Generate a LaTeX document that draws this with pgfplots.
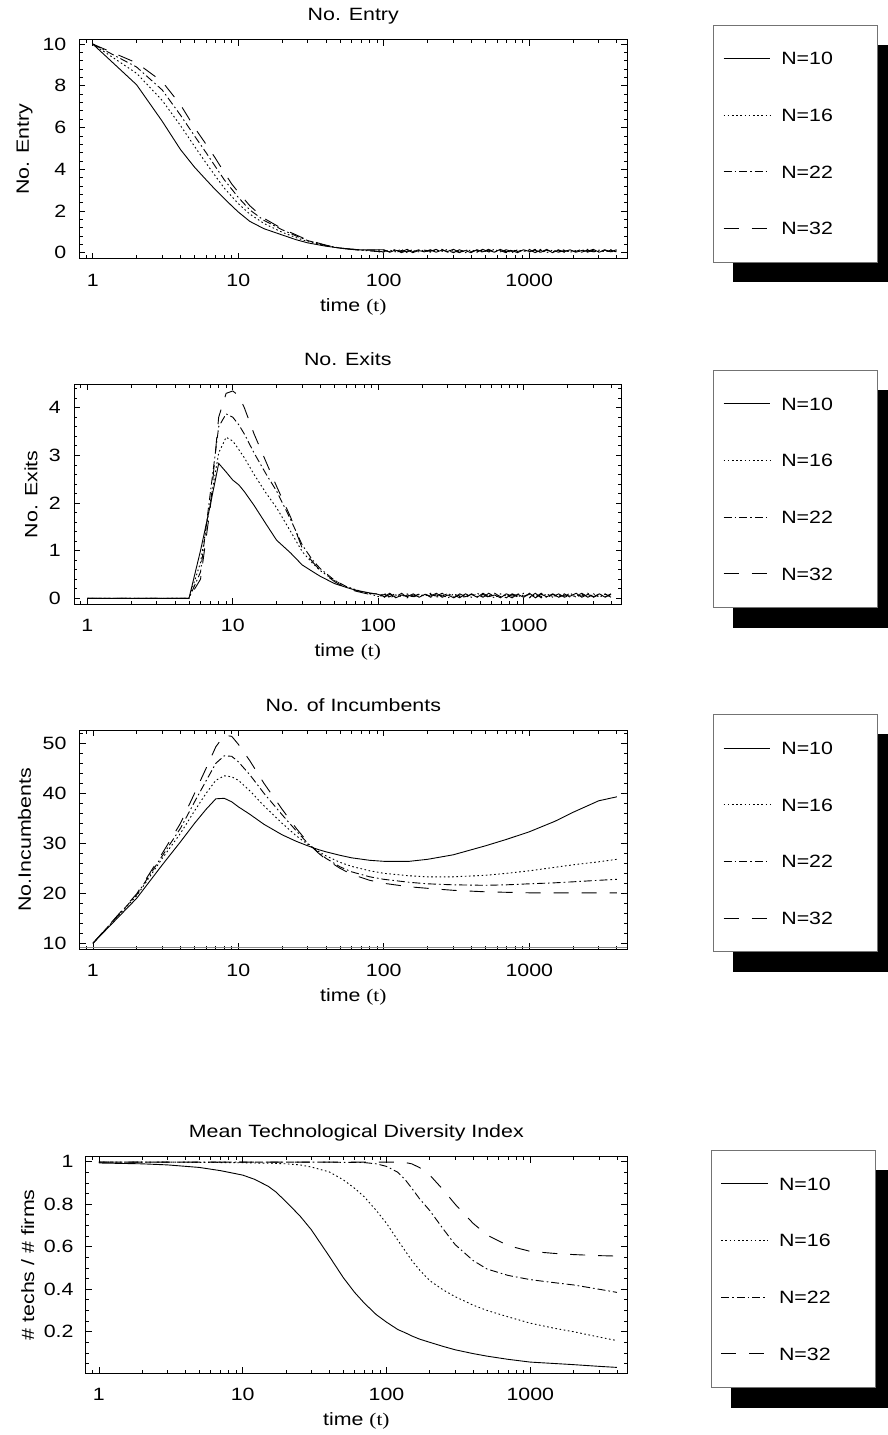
\documentclass[border=0pt]{standalone}
\usepackage{fontspec}
\setmainfont[FakeStretch=1.2]{Liberation Sans}
\newfontfamily\tnr[FakeStretch=1.2]{Liberation Serif}
\usepackage{pgfplots}
\pgfplotsset{compat=1.18}
\usepackage{pgfplotstable}
\pgfdeclarelayer{background}
\pgfsetlayers{background,main}

\newcommand\LE[1]{\makebox[87pt][l]{#1}}

% No. Entry
\pgfplotstableread{
t a b c d
1 10 10 10 10
2 8.05 8.6 8.9 9.1
3 6.3 7.3 7.8 8.2
4 4.95 6.1 6.6 7.1
5 4.1 5.1 5.6 6.0
6 3.5 4.3 4.8 5.2
7 3.0 3.65 4.1 4.5
8 2.6 3.1 3.5 3.85
9 2.25 2.7 3.05 3.3
10 1.95 2.35 2.65 2.9
12 1.5 1.85 2.05 2.25
15 1.15 1.4 1.55 1.65
20 0.85 0.98 1.1 1.15
25 0.62 0.72 0.8 0.85
30 0.47 0.53 0.58 0.6
40 0.31 0.33 0.35 0.36
50 0.22 0.22 0.22 0.21
70 0.13 0.12 0.12 0.11
100 0.14 0.02 0.12 0.04
110 0.02 0.12 0.04 0.16
120 0.12 0.04 0.16 0
132 0.04 0.16 0 0.1
145 0.16 0 0.1 0.04
158 0 0.1 0.04 0.14
174 0.1 0.04 0.14 0.02
191 0.04 0.14 0.02 0.12
209 0.14 0.02 0.12 0.06
229 0.02 0.12 0.06 0.16
251 0.12 0.06 0.16 0.02
275 0.06 0.16 0.02 0.1
302 0.16 0.02 0.1 0
331 0.02 0.1 0 0.14
363 0.1 0 0.14 0.04
398 0 0.14 0.04 0.12
437 0.14 0.04 0.12 0.02
479 0.04 0.12 0.02 0.16
525 0.12 0.02 0.16 0.04
575 0.02 0.16 0.04 0.1
631 0.16 0.04 0.1 0
692 0.04 0.1 0 0.14
759 0.1 0 0.14 0.06
832 0 0.14 0.06 0.12
912 0.14 0.06 0.12 0.02
1000 0.06 0.12 0.02 0.16
1096 0.12 0.02 0.16 0
1202 0.02 0.16 0 0.12
1318 0.16 0 0.12 0.04
1445 0 0.12 0.04 0.14
1585 0.12 0.04 0.14 0.02
1738 0.04 0.14 0.02 0.1
1905 0.14 0.02 0.1 0.06
2089 0.02 0.1 0.06 0.16
2291 0.1 0.06 0.16 0.02
2512 0.06 0.16 0.02 0.12
2754 0.16 0.02 0.12 0.04
3020 0.02 0.12 0.04 0.14
3311 0.12 0.04 0.14 0.02
3631 0.04 0.14 0.02 0.12
3981 0.14 0.02 0.12 0.04
}\tabEntry

% No. Exits
\pgfplotstableread{
t a b c d
1 0 0 0 0
5 0 0 0 0
6 1.0 0.75 0.55 0.4
7 1.95 2.0 2.2 1.9
8 2.83 3.05 3.6 3.8
9 2.65 3.38 3.87 4.3
10 2.48 3.3 3.8 4.35
11 2.38 3.12 3.64 4.25
12 2.24 2.95 3.45 4.0
14 1.95 2.6 3.05 3.45
17 1.55 2.2 2.6 2.85
20 1.22 1.9 2.25 2.35
25 0.95 1.4 1.65 1.7
30 0.7 0.98 1.12 1.05
35 0.57 0.75 0.82 0.78
40 0.46 0.58 0.62 0.58
50 0.31 0.37 0.38 0.35
60 0.23 0.25 0.25 0.22
70 0.17 0.18 0.17 0.15
85 0.12 0.11 0.1 0.09
100 0.082 0.034 0.094 0.022
110 0.034 0.106 0.022 0.082
120 0.106 0.01 0.082 0.034
132 0.01 0.07 0.034 0.106
145 0.07 0.034 0.106 0.01
158 0.034 0.094 0.01 0.07
174 0.094 0.022 0.07 0.034
191 0.022 0.082 0.034 0.094
209 0.082 0.046 0.094 0.022
229 0.046 0.106 0.022 0.082
251 0.106 0.022 0.082 0.046
275 0.022 0.07 0.046 0.106
302 0.07 0.01 0.106 0.022
331 0.01 0.094 0.022 0.07
363 0.094 0.034 0.07 0.01
398 0.034 0.082 0.01 0.094
437 0.082 0.022 0.094 0.034
479 0.022 0.106 0.034 0.082
525 0.106 0.034 0.082 0.022
575 0.034 0.07 0.022 0.106
631 0.07 0.01 0.106 0.034
692 0.01 0.094 0.034 0.07
759 0.094 0.046 0.07 0.01
832 0.046 0.082 0.01 0.094
912 0.082 0.022 0.094 0.046
1000 0.022 0.106 0.046 0.082
1096 0.106 0.01 0.082 0.022
1202 0.01 0.082 0.022 0.106
1318 0.082 0.034 0.106 0.01
1445 0.034 0.094 0.01 0.082
1585 0.094 0.022 0.082 0.034
1738 0.022 0.07 0.034 0.094
1905 0.07 0.046 0.094 0.022
2089 0.046 0.106 0.022 0.07
2291 0.106 0.022 0.07 0.046
2512 0.022 0.082 0.046 0.106
2754 0.082 0.034 0.106 0.022
3020 0.034 0.094 0.022 0.082
3311 0.094 0.022 0.082 0.034
3631 0.022 0.082 0.034 0.094
3981 0.082 0.034 0.094 0.022
}\tabExit

% No. of Incumbents
\pgfplotstableread{
t a b c d
1 10 10 10 10
2 19 19.5 19.7 19.9
3 25.7 27 27.5 28
4 30.3 32 33 34
5 34 36.5 38.3 40
6 36.8 40 42.5 45
7 38.9 42.6 46 49.3
8 39 43.5 47.5 51.6
9 38.3 43.3 47.4 51.4
10 37.3 42.6 46.3 49.8
12 35.8 40.5 43.7 46.5
15 33.8 37.5 40 42
20 31.7 34 35.7 36.8
25 30.4 31.5 32.5 33
30 29.5 29.8 30 30.2
35 28.8 28.5 28.3 28.2
40 28.3 27.5 27 26.8
50 27.6 26.2 25.3 25
60 27.1 25.4 24.3 23.8
80 26.6 24.5 23.3 22.6
100 26.4 24 22.8 22
150 26.4 23.5 22.2 21.3
200 26.8 23.3 21.9 21
300 27.7 23.3 21.7 20.6
500 29.5 23.6 21.6 20.3
700 30.8 24 21.7 20.2
1000 32.3 24.5 21.9 20.1
1500 34.4 25.2 22.1 20.1
2000 36.2 25.7 22.3 20.1
3000 38.5 26.3 22.6 20.1
4000 39.3 26.8 22.8 20.1
}\tabInc

% Mean Technological Diversity Index
\pgfplotstableread{
t a b c d
1 0.994 0.998 0.998 0.998
2 0.99 0.998 0.998 0.998
3 0.985 0.998 0.998 0.998
5 0.973 0.997 0.998 0.998
7 0.958 0.996 0.998 0.998
10 0.937 0.995 0.998 0.998
12 0.918 0.994 0.998 0.998
15 0.885 0.993 0.998 0.998
17 0.858 0.992 0.998 0.998
20 0.812 0.99 0.998 0.998
25 0.745 0.985 0.998 0.998
30 0.68 0.975 0.998 0.998
40 0.555 0.952 0.998 0.998
50 0.455 0.915 0.997 0.998
60 0.385 0.875 0.997 0.998
70 0.335 0.835 0.996 0.998
85 0.28 0.77 0.99 0.998
100 0.245 0.71 0.978 0.998
120 0.21 0.63 0.95 0.998
135 0.195 0.58 0.915 0.996
150 0.18 0.535 0.875 0.99
170 0.165 0.49 0.825 0.972
200 0.15 0.44 0.77 0.937
250 0.13 0.395 0.68 0.865
300 0.115 0.365 0.61 0.8
400 0.097 0.325 0.535 0.71
500 0.085 0.3 0.495 0.655
700 0.07 0.27 0.465 0.605
1000 0.057 0.24 0.445 0.578
1500 0.05 0.215 0.43 0.568
2000 0.045 0.2 0.42 0.563
3000 0.037 0.175 0.4 0.558
4000 0.032 0.158 0.385 0.556
}\tabDiv

\pgfplotsset{
  sA/.style={black, line width=0.9pt, solid},
  sB/.style={black, line width=0.9pt, dash pattern=on 1.6pt off 2.6pt},
  sC/.style={black, line width=0.9pt, dash pattern=on 8pt off 3pt on 1.6pt off 3pt},
  sD/.style={black, line width=0.9pt, dash pattern=on 15pt off 13pt},
  every axis/.append style={
    scale only axis,
    xmode=log,
    xmin=0.81, xmax=4700,
    xtick={1,10,100,1000}, xticklabels={1,10,100,1000},
    minor xtick={0.9,2,3,4,5,6,7,8,9,20,30,40,50,60,70,80,90,200,300,400,500,600,700,800,900,2000,3000,4000},
    tick align=inside, tick pos=both, xticklabel pos=lower, yticklabel pos=left,
    major tick length=6pt, minor tick length=3.5pt,
    every tick/.style={black, line width=0.7pt},
    axis line style={black, line width=0.9pt},
    font=\fontsize{17.8}{21}\selectfont,
    xticklabel style={anchor=base, yshift=-27.5pt, inner sep=0pt},
    yticklabel style={anchor=east, inner sep=0pt, xshift=-13pt},
    title style={at={(axis description cs:0.5,1)}, anchor=base, yshift=13pt},
    xlabel style={at={(axis description cs:0.5,0)}, anchor=base, yshift=-52.5pt},
    ylabel style={rotate=0, anchor=center},
    xlabel={time {\tnr (t)}},
    legend image code/.code={\draw[#1] (0pt,0pt) -- (46.6pt,0pt);},
    legend style={draw=black!55, line width=0.8pt, fill=white,
      inner xsep=9.4pt, inner ysep=27pt, row sep=44pt, column sep=10.7pt,
      anchor=north west, font=\fontsize{17.8}{21}\selectfont,
      nodes={inner sep=0pt, text height=12.7pt, text depth=0pt}},
  },
  /pgf/number format/assume math mode=true,
}

\begin{document}
\begin{tikzpicture}
\useasboundingbox (0pt,0pt) rectangle (888pt,-1435pt);

% Panel 1
\begin{axis}[
  at={(79.5pt,-258.7pt)}, anchor=south west,
  width=547.5pt, height=219.2pt,
  ymin=-0.29, ymax=10.22,
  ytick={0,2,4,6,8,10},
  minor ytick={0.4,0.8,...,10},
  title={No. Entry}, ylabel={No. Entry},
  ylabel style={at={(axis description cs:-0.1005,0.5)}},
  legend style={at={(1.1576,1.0675)}, name=legA},
]
\addplot[sA] table[x=t,y=a]{\tabEntry};
\addplot[sB] table[x=t,y=b]{\tabEntry};
\addplot[sC] table[x=t,y=c]{\tabEntry};
\addplot[sD] table[x=t,y=d]{\tabEntry};
\legend{{\LE{N=10}},{\LE{N=16}},{\LE{N=22}},{\LE{N=32}}}
\end{axis}

% Panel 2
\begin{axis}[
  at={(74pt,-604.3pt)}, anchor=south west,
  width=547.5pt, height=220pt,
  ymin=-0.126, ymax=4.49,
  ytick={0,1,2,3,4},
  minor ytick={0.2,0.4,...,4.4},
  title={No. Exits}, ylabel={No. Exits},
  ylabel style={at={(axis description cs:-0.0785,0.5)}},
  legend style={at={(1.1677,1.065)}, name=legB},
]
\addplot[sA] table[x=t,y=a]{\tabExit};
\addplot[sB] table[x=t,y=b]{\tabExit};
\addplot[sC] table[x=t,y=c]{\tabExit};
\addplot[sD] table[x=t,y=d]{\tabExit};
\legend{{\LE{N=10}},{\LE{N=16}},{\LE{N=22}},{\LE{N=32}}}
\end{axis}

% Panel 3
\begin{axis}[
  at={(79.6pt,-949.3pt)}, anchor=south west,
  width=547.4pt, height=219.3pt,
  ymin=8.8, ymax=52.66,
  ytick={10,20,30,40,50},
  minor ytick={10,12,...,52},
  extra y ticks={9.2}, extra y tick labels={},
  extra y tick style={grid=major, major grid style={black!45, line width=1.3pt}, major tick length=0pt},
  title={No. of Incumbents}, ylabel={No.Incumbents},
  ylabel style={at={(axis description cs:-0.1005,0.5)}},
  legend style={at={(1.1577,1.0711)}, name=legC},
]
\addplot[sA] table[x=t,y=a]{\tabInc};
\addplot[sB] table[x=t,y=b]{\tabInc};
\addplot[sC] table[x=t,y=c]{\tabInc};
\addplot[sD] table[x=t,y=d]{\tabInc};
\legend{{\LE{N=10}},{\LE{N=16}},{\LE{N=22}},{\LE{N=32}}}
\end{axis}

% Panel 4
\begin{axis}[
  at={(85.7pt,-1373pt)}, anchor=south west,
  width=541.3pt, height=216.3pt,
  ymin=0.0056, ymax=1.0235,
  ytick={0.2,0.4,0.6,0.8,1},
  minor ytick={0.05,0.1,...,1},
  yticklabel style={xshift=1pt},
  title={Mean Technological Diversity Index}, ylabel={\# techs / \# firms},
  ylabel style={at={(axis description cs:-0.107,0.5)}},
  legend style={at={(1.1552,1.031)}, name=legD},
]
\addplot[sA] table[x=t,y=a]{\tabDiv};
\addplot[sB] table[x=t,y=b]{\tabDiv};
\addplot[sC] table[x=t,y=c]{\tabDiv};
\addplot[sD] table[x=t,y=d]{\tabDiv};
\legend{{\LE{N=10}},{\LE{N=16}},{\LE{N=22}},{\LE{N=32}}}
\end{axis}

\begin{pgfonlayer}{background}
\foreach \L in {legA,legB,legC,legD}{
  \fill[black] ([shift={(20pt,-20pt)}]\L.south west) rectangle ([shift={(20pt,-20pt)}]\L.north east);
}
\end{pgfonlayer}
\end{tikzpicture}
\end{document}
